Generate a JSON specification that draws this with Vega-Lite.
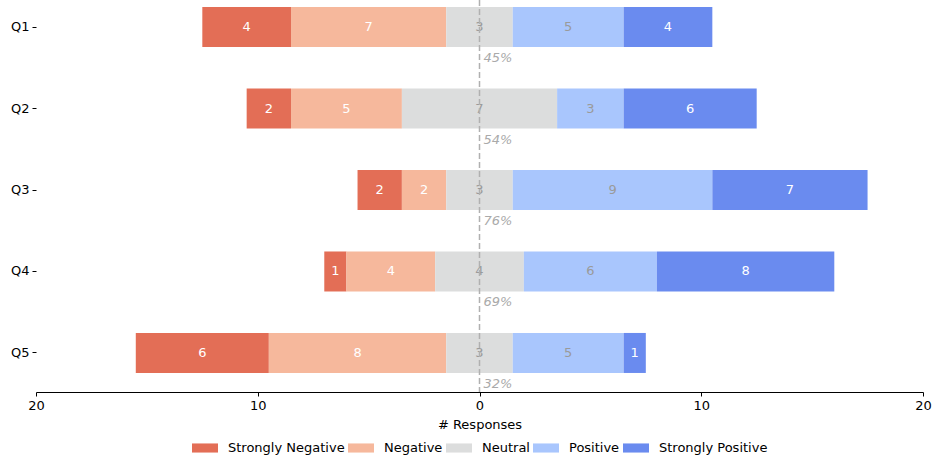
{
  "$schema": "https://vega.github.io/schema/vega-lite/v6.json",
  "autosize": {"type": "none"},
  "padding": {"left": 36, "top": 0, "right": 12, "bottom": 65},
  "width": 887,
  "height": 392,
  "config": {
    "font": "DejaVu Sans",
    "view": {"stroke": null},
    "axis": {"labelFont": "DejaVu Sans", "titleFont": "DejaVu Sans", "labelFontSize": 13, "titleFontSize": 13, "labelColor": "#000", "titleColor": "#000", "titleFontWeight": "normal", "grid": false, "tickColor": "#000", "domainColor": "#000"},
    "legend": {"labelFont": "DejaVu Sans", "labelFontSize": 13, "labelColor": "#000"}
  },
  "datasets": {
    "resp": [
      {"question": "Q1", "type": "Strongly Negative", "order": 1, "count": 4},
      {"question": "Q1", "type": "Negative", "order": 2, "count": 7},
      {"question": "Q1", "type": "Neutral", "order": 3, "count": 3},
      {"question": "Q1", "type": "Positive", "order": 4, "count": 5},
      {"question": "Q1", "type": "Strongly Positive", "order": 5, "count": 4},
      {"question": "Q2", "type": "Strongly Negative", "order": 1, "count": 2},
      {"question": "Q2", "type": "Negative", "order": 2, "count": 5},
      {"question": "Q2", "type": "Neutral", "order": 3, "count": 7},
      {"question": "Q2", "type": "Positive", "order": 4, "count": 3},
      {"question": "Q2", "type": "Strongly Positive", "order": 5, "count": 6},
      {"question": "Q3", "type": "Strongly Negative", "order": 1, "count": 2},
      {"question": "Q3", "type": "Negative", "order": 2, "count": 2},
      {"question": "Q3", "type": "Neutral", "order": 3, "count": 3},
      {"question": "Q3", "type": "Positive", "order": 4, "count": 9},
      {"question": "Q3", "type": "Strongly Positive", "order": 5, "count": 7},
      {"question": "Q4", "type": "Strongly Negative", "order": 1, "count": 1},
      {"question": "Q4", "type": "Negative", "order": 2, "count": 4},
      {"question": "Q4", "type": "Neutral", "order": 3, "count": 4},
      {"question": "Q4", "type": "Positive", "order": 4, "count": 6},
      {"question": "Q4", "type": "Strongly Positive", "order": 5, "count": 8},
      {"question": "Q5", "type": "Strongly Negative", "order": 1, "count": 6},
      {"question": "Q5", "type": "Negative", "order": 2, "count": 8},
      {"question": "Q5", "type": "Neutral", "order": 3, "count": 3},
      {"question": "Q5", "type": "Positive", "order": 4, "count": 5},
      {"question": "Q5", "type": "Strongly Positive", "order": 5, "count": 1}
    ],
    "pct": [
      {"question": "Q1", "label": "45%"},
      {"question": "Q2", "label": "54%"},
      {"question": "Q3", "label": "76%"},
      {"question": "Q4", "label": "69%"},
      {"question": "Q5", "label": "32%"}
    ],
    "zero": [{"x": 0}]
  },
  "encoding": {
    "y": {
      "field": "question", "type": "nominal", "title": null,
      "sort": ["Q1", "Q2", "Q3", "Q4", "Q5"],
      "scale": {"domain": ["Q1", "Q2", "Q3", "Q4", "Q5"], "paddingInner": 0.509, "paddingOuter": 0.16, "align": 0.27},
      "axis": {"domain": false, "ticks": true, "tickSize": 4, "labelPadding": 3}
    }
  },
  "layer": [
    {
      "data": {"name": "resp"},
      "transform": [
        {"stack": "count", "groupby": ["question"], "sort": [{"field": "order", "order": "ascending"}], "as": ["v1", "v2"]},
        {"calculate": "datum.order < 3 ? datum.count : (datum.order == 3 ? datum.count / 2 : 0)", "as": "negpart"},
        {"joinaggregate": [{"op": "sum", "field": "negpart", "as": "offset"}], "groupby": ["question"]},
        {"calculate": "datum.v1 - datum.offset", "as": "x1"},
        {"calculate": "datum.v2 - datum.offset", "as": "x2"},
        {"calculate": "(datum.x1 + datum.x2) / 2", "as": "xm"}
      ],
      "layer": [
        {
          "mark": {"type": "bar"},
          "encoding": {
            "x": {"field": "x1", "type": "quantitative", "title": "# Responses",
              "scale": {"domain": [-20, 20], "nice": false, "zero": false},
              "axis": {"values": [-20, -10, 0, 10, 20], "labelExpr": "abs(datum.value)", "labelFlush": false, "tickSize": 4, "labelPadding": 3, "titlePadding": 6}},
            "x2": {"field": "x2"},
            "color": {
              "field": "type", "type": "nominal",
              "scale": {"domain": ["Strongly Negative", "Negative", "Neutral", "Positive", "Strongly Positive"], "range": ["#e36e56", "#f6b89c", "#dcdddd", "#a9c6fd", "#6a8bef"]},
              "legend": {"orient": "none", "legendX": 156, "legendY": 435, "direction": "horizontal", "title": null, "symbolType": "M-1,-0.35h2v0.7h-2z", "symbolSize": 676, "symbolStrokeWidth": 0, "symbolOpacity": 1, "labelOffset": 10, "columnPadding": 3}
            },
            "order": {"field": "order"}
          }
        },
        {
          "mark": {"type": "text", "fontSize": 13, "baseline": "middle", "align": "center"},
          "encoding": {
            "x": {"field": "xm", "type": "quantitative"},
            "text": {"field": "count", "type": "quantitative"},
            "color": {"condition": {"test": "datum.type === 'Neutral' || datum.type === 'Positive'", "value": "#9a9a9a"}, "value": "#ffffff"}
          }
        }
      ]
    },
    {
      "data": {"name": "zero"},
      "mark": {"type": "rule", "color": "#b0b0b0", "strokeDash": [6, 3], "strokeWidth": 1.5},
      "encoding": {"x": {"field": "x", "type": "quantitative"}, "y": null}
    },
    {
      "data": {"name": "pct"},
      "mark": {"type": "text", "fontSize": 13, "fontStyle": "italic", "color": "#aaaaaa", "align": "left", "baseline": "middle", "dx": 4, "dy": 31},
      "encoding": {
        "x": {"datum": 0, "type": "quantitative"},
        "text": {"field": "label"}
      }
    }
  ]
}
